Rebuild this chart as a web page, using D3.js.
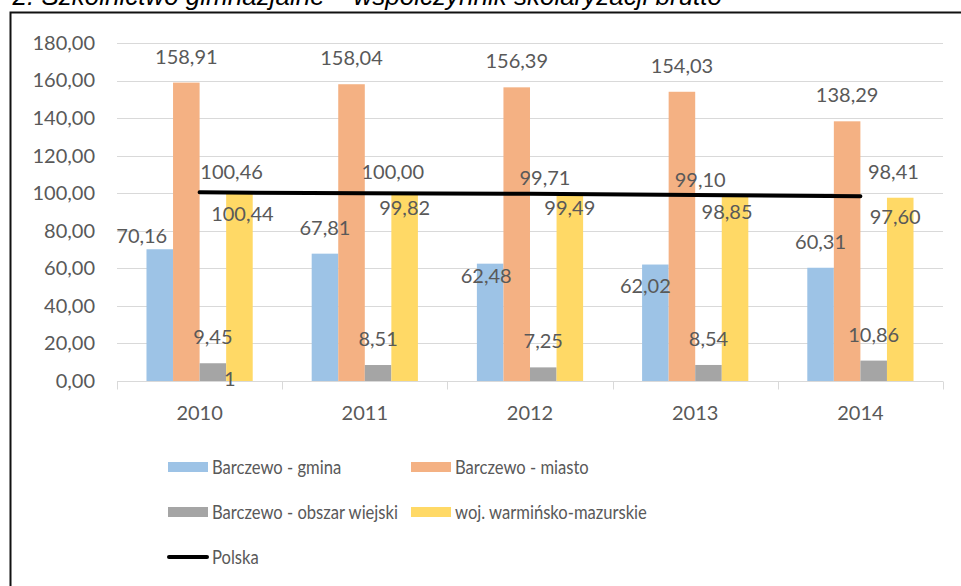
<!DOCTYPE html>
<html lang="pl">
<head>
<meta charset="UTF-8">
<title>Współczynnik skolaryzacji brutto</title>
<script src="https://d3js.org/d3.v7.min.js"></script>
<style>
  body { margin: 0; background: #fff; }
  svg { display: block; }
  text { font-family: Lato, "Open Sans", sans-serif; fill: #595959; }
</style>
</head>
<body>
<div id="chart"></div>
<script>
// dane
var years = ["2010", "2011", "2012", "2013", "2014"]
var gmina   = [70.16, 67.81, 62.48, 62.02, 60.31]
var miasto  = [158.91, 158.04, 156.39, 154.03, 138.29]
var wiejski = [9.45, 8.51, 7.25, 8.54, 10.86]
var woj     = [100.44, 99.82, 99.49, 98.85, 97.60]
var polska  = [100.46, 100.00, 99.71, 99.10, 98.41]
var yTicks  = [0, 20, 40, 60, 80, 100, 120, 140, 160, 180]

var series = [
  { name: "Barczewo - gmina", values: gmina, color: "#9dc3e6" },
  { name: "Barczewo - miasto", values: miasto, color: "#f4b183" },
  { name: "Barczewo - obszar wiejski", values: wiejski, color: "#a5a5a5" },
  { name: "woj. warmińsko-mazurskie", values: woj, color: "#ffd966" }
]

// ręcznie przesunięte etykiety (dx, dy) - jak w oryginale
var labelShift = [
  [[-18, 13], [0, 0], [-4, 38], [-10, 47], [0, 0]],
  [[0, 0], [0, 0], [0, 0], [0, 0], [0, 0]],
  [[0, 0], [0, 0], [0, 0], [0, 0], [0, 0]],
  [[3, 48], [0, 40], [0, 40], [-8, 43], [-5, 45]]
]
var polskaShift = [[32, -13], [28, -14], [15, -9], [5, -8], [33, -17]]

var width = 961, height = 586
var margin = { top: 43, left: 117, right: 18, bottom: 205 }

var pl = d3.formatLocale({ decimal: ",", thousands: " ", grouping: [3], currency: ["", " zł"] })
var fmt = pl.format(".2f")

var svg = d3.select("#chart").append("svg")
  .attr("width", width)
  .attr("height", height)

// tytuł (ucięty u góry, jak w oryginale)
svg.append("text")
  .attr("x", 722)
  .attr("y", 5)
  .attr("text-anchor", "end")
  .style("font-family", "'Liberation Sans', Arial, sans-serif")
  .style("font-style", "italic")
  .style("font-size", "26px")
  .style("fill", "#000")
  .text("2. Szkolnictwo gimnazjalne – współczynnik skolaryzacji brutto")

// ramka wykresu
svg.append("rect")
  .attr("x", 10.5).attr("y", 12.5)
  .attr("width", 1000).attr("height", 1000)
  .attr("fill", "none")
  .attr("stroke", "#111")
  .attr("stroke-width", 2)

var x = d3.scaleBand()
  .domain(years)
  .range([margin.left, width - margin.right])

var y = d3.scaleLinear()
  .domain([0, 180])
  .range([height - margin.bottom, margin.top])

var gap = x.bandwidth() * 0.357
var xs = d3.scaleBand()
  .domain(d3.range(series.length))
  .range([gap / 2, x.bandwidth() - gap / 2])

// siatka
svg.append("g")
  .selectAll("line")
  .data(yTicks.filter(function (d) { return d > 0 }))
  .enter().append("line")
  .attr("x1", margin.left).attr("x2", width - margin.right)
  .attr("y1", function (d) { return Math.round(y(d)) + 0.5 })
  .attr("y2", function (d) { return Math.round(y(d)) + 0.5 })
  .attr("stroke", "#d9d9d9")

// oś Y
var yAxis = d3.axisLeft(y).tickValues(yTicks).tickSize(0).tickPadding(22).tickFormat(fmt)
svg.append("g")
  .attr("transform", "translate(" + margin.left + ",0)")
  .call(yAxis)
  .call(function (g) { g.select(".domain").remove() })
  .selectAll("text")
  .style("font-size", "20px")
  .style("font-family", "Lato, sans-serif")
  .attr("fill", "#595959")

// oś X
var base = Math.round(y(0)) + 0.5
svg.append("line")
  .attr("x1", margin.left).attr("x2", width - margin.right)
  .attr("y1", base).attr("y2", base)
  .attr("stroke", "#d9d9d9")
svg.append("g")
  .selectAll("line")
  .data(years.map(function (d) { return x(d) }).concat([x(years[years.length - 1]) + x.bandwidth()]))
  .enter().append("line")
  .attr("x1", function (d) { return Math.round(d) + 0.5 })
  .attr("x2", function (d) { return Math.round(d) + 0.5 })
  .attr("y1", base).attr("y2", base + 8)
  .attr("stroke", "#d9d9d9")

var xAxis = d3.axisBottom(x).tickSize(0).tickPadding(25)
svg.append("g")
  .attr("transform", "translate(0," + y(0) + ")")
  .call(xAxis)
  .call(function (g) { g.select(".domain").remove() })
  .selectAll("text")
  .style("font-size", "20px")
  .style("font-family", "Lato, sans-serif")
  .attr("fill", "#595959")

// słupki
var barData = []
series.forEach(function (s, si) {
  s.values.forEach(function (v, i) { barData.push({ v: v, i: i, si: si, color: s.color }) })
})

svg.append("g")
  .selectAll("rect")
  .data(barData)
  .enter().append("rect")
  .attr("x", function (d) { return x(years[d.i]) + xs(d.si) })
  .attr("width", xs.bandwidth())
  .attr("y", function (d) { return y(d.v) })
  .attr("height", function (d) { return y(0) - y(d.v) })
  .attr("fill", function (d) { return d.color })

// linia Polska
var line = d3.line()
  .x(function (d, i) { return x(years[i]) + x.bandwidth() / 2 })
  .y(function (d) { return y(d) })

svg.append("path")
  .datum(polska)
  .attr("d", line)
  .attr("fill", "none")
  .attr("stroke", "#000")
  .attr("stroke-width", 4)
  .attr("stroke-linecap", "round")

// etykiety słupków (na wierzchu)
svg.append("g")
  .selectAll("text")
  .data(barData)
  .enter().append("text")
  .attr("text-anchor", "middle")
  .attr("x", function (d) { return x(years[d.i]) + xs(d.si) + xs.bandwidth() / 2 + labelShift[d.si][d.i][0] })
  .attr("y", function (d) { return y(d.v) - 19 + labelShift[d.si][d.i][1] })
  .style("font-size", "20px")
  .text(function (d) { return fmt(d.v) })

// zawinięta reszta etykiety 9,45
svg.append("text")
  .attr("text-anchor", "middle")
  .attr("x", x(years[0]) + xs(2) + xs.bandwidth() / 2 + 17)
  .attr("y", y(wiejski[0]) - 19 + 42)
  .style("font-size", "20px")
  .text("1")

svg.append("g")
  .selectAll("text")
  .data(polska)
  .enter().append("text")
  .attr("text-anchor", "middle")
  .attr("x", function (d, i) { return x(years[i]) + x.bandwidth() / 2 + polskaShift[i][0] })
  .attr("y", function (d, i) { return y(d) + polskaShift[i][1] })
  .style("font-size", "20px")
  .text(function (d) { return fmt(d) })

// legenda
var legendItems = series.map(function (s) { return { name: s.name, color: s.color, type: "bar" } })
legendItems.push({ name: "Polska", color: "#000", type: "line" })
var colX = [168, 411], rowY = [467, 512, 557]

var legend = svg.append("g")
  .selectAll("g")
  .data(legendItems)
  .enter().append("g")
  .attr("transform", function (d, i) { return "translate(" + colX[i % 2] + "," + rowY[Math.floor(i / 2)] + ")" })

legend.filter(function (d) { return d.type == "bar" })
  .append("rect")
  .attr("x", 0).attr("y", -5)
  .attr("width", 40).attr("height", 10)
  .attr("fill", function (d) { return d.color })

legend.filter(function (d) { return d.type == "line" })
  .append("line")
  .attr("x1", 1).attr("x2", 39)
  .attr("y1", 0).attr("y2", 0)
  .attr("stroke", "#000")
  .attr("stroke-width", 4)
  .attr("stroke-linecap", "round")

// tekst legendy węższy (Calibri w oryginale)
legend.append("text")
  .attr("transform", "translate(44,7) scale(0.83,1)")
  .style("font-size", "20px")
  .text(function (d) { return d.name })
</script>
</body>
</html>
